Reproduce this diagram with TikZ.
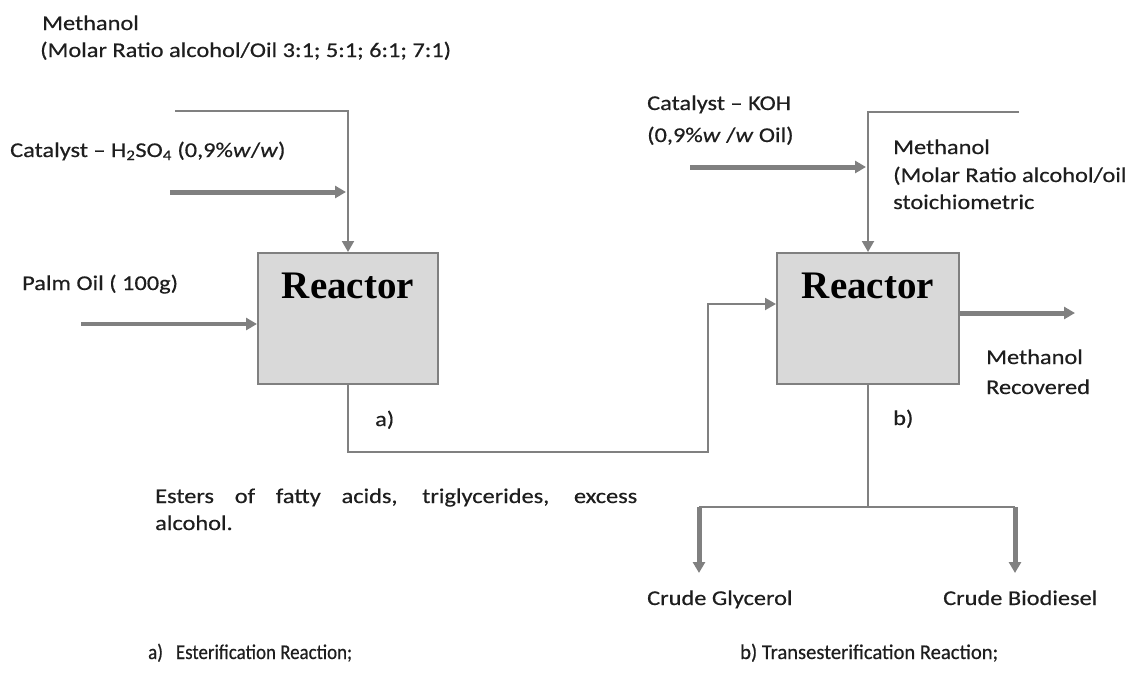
\documentclass[tikz,border=0pt]{standalone}
\usepackage{fontspec}
\setmainfont{Carlito}[FakeStretch=1.16,FakeBold=0.5]
\newfontfamily\captionafont{Carlito}[FakeStretch=0.9,FakeBold=0.5]
\newfontfamily\captionbfont{Carlito}[FakeStretch=0.98,FakeBold=0.5]
\newfontfamily\reactorfont{Liberation Serif}
\usetikzlibrary{arrows.meta}

\definecolor{linegray}{HTML}{808080}
\definecolor{boxfill}{HTML}{D9D9D9}
\definecolor{inktext}{HTML}{1E1E1E}

\tikzset{
  lbl/.style={anchor=base west, inner sep=0pt, text=inktext,
              font=\fontsize{21}{27}\selectfont},
  reactorbox/.style={draw=linegray, line width=2pt, fill=boxfill,
                     minimum width=180pt, minimum height=131pt, inner sep=0pt},
  reactorlbl/.style={anchor=base, inner sep=0pt, text=black,
                     font=\reactorfont\bfseries\fontsize{39}{39}\selectfont},
  thinflow/.style={draw=linegray, line width=2pt},
  midflow/.style={draw=linegray, line width=3.5pt},
  thickflow/.style={draw=linegray, line width=5pt},
  tip/.style={-{Triangle[length=11pt,width=12pt]}}
}

\begin{document}
\begin{tikzpicture}[x=1pt,y=-1pt]
\useasboundingbox (0,0) rectangle (1136,678);

% ---- reactors ----
\node[reactorbox] (r1) at (348,318.5) {};
\node[reactorbox, minimum width=182pt] (r2) at (868,318.5) {};
\node[reactorlbl] (r1t) at (348,298) {Reactor};
\node[reactorlbl] (r2t) at (868,298) {Reactor};

% ---- esterification feeds ----
\node[lbl] (meth1) at (42,30) {Methanol};
\node[lbl] (ratio1) at (40,57) {(Molar Ratio alcohol/Oil 3:1; 5:1; 6:1; 7:1)};
\node[lbl] (cat1) at (10,157) {Catalyst -- H\textsubscript{2}SO\textsubscript{4} (0,9\%\textit{w}/\textit{w})};
\node[lbl] (palm) at (22,290) {Palm Oil ( 100g)};
\node[lbl] (la) at (375,426) {a)};

\coordinate (m1s) at (175,111);
\coordinate (c1s) at (170,192);
\coordinate (c1e) at (346,192);
\coordinate (ps) at (81,324);
\draw[thinflow, tip] (m1s) -| (r1.north);
\draw[thickflow, tip] (c1s) -- (c1e);
\draw[midflow, tip] (ps) -- (ps -| r1.west);

% ---- intermediate stream ----
\coordinate (lp) at (708,452);
\coordinate (lq) at (708,304);
\draw[thinflow, tip] (r1.south) |- (lp) -- (lq) -- (lq -| r2.west);
\node[lbl] (est1) at (155,503) {\makebox[482pt][s]{Esters of fatty acids, triglycerides, excess}};
\node[lbl] (est2) at (155,530) {alcohol.};

% ---- transesterification feeds ----
\node[lbl] (cat2) at (647,110) {Catalyst -- KOH};
\node[lbl] (cat2b) at (647,142) {(0,9\%\textit{w} /\textit{w} Oil)};
\node[lbl] (meth2) at (893,154) {Methanol};
\node[lbl] (ratio2) at (893,182) {(Molar Ratio alcohol/oil};
\node[lbl] (stoich) at (893,209) {stoichiometric};

\coordinate (m2s) at (1019,112);
\coordinate (c2s) at (690,167);
\coordinate (c2e) at (866,167);
\draw[thinflow, tip] (m2s) -| (r2.north);
\draw[thickflow, tip] (c2s) -- (c2e);

% ---- products ----
\coordinate (oe) at (1075,313);
\draw[thickflow, tip] (oe -| r2.east) -- (oe);
\node[lbl] (mrec) at (986,364) {Methanol};
\node[lbl] (mrec2) at (986,394) {Recovered};
\node[lbl] (lb) at (893,425) {b)};

\coordinate (jn) at (868,507);
\coordinate (gl) at (699,507);
\coordinate (bd) at (1015,507);
\coordinate (glt) at (699,573);
\coordinate (bdt) at (1015,573);
\draw[thinflow] (r2.south) -- (jn);
\draw[thinflow] (gl) -- (bd);
\draw[thickflow, tip] (gl) -- (glt);
\draw[thickflow, tip] (bd) -- (bdt);
\node[lbl] (gly) at (647,605) {Crude Glycerol};
\node[lbl] (bio) at (943,605) {Crude Biodiesel};

% ---- captions ----
\node[lbl, font=\captionafont\fontsize{21}{27}\selectfont] (capa) at (148,659) {a)\hspace{13pt}Esterification Reaction;};
\node[lbl, font=\captionbfont\fontsize{21}{27}\selectfont] (capb) at (740,659) {b) Transesterification Reaction;};
\end{tikzpicture}
\end{document}
